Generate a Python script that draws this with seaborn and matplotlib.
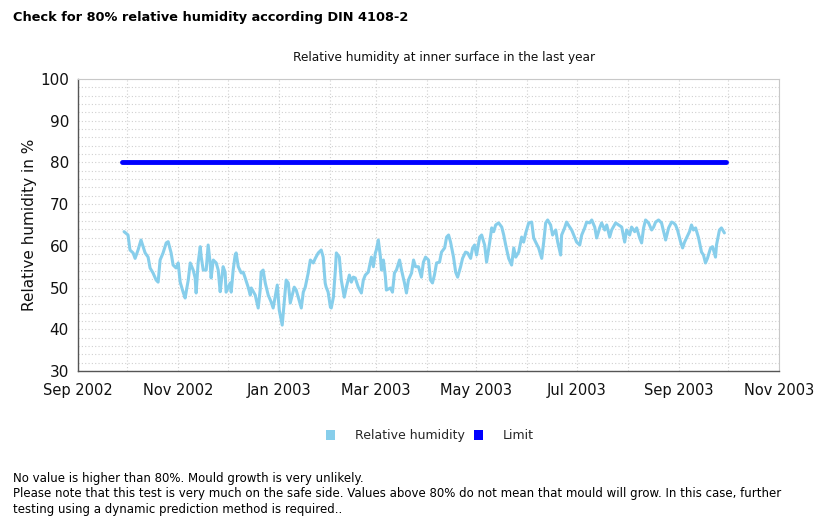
import matplotlib
matplotlib.use("Agg")
import matplotlib.pyplot as plt
import matplotlib.dates as mdates
from matplotlib.patches import Patch
from matplotlib.ticker import MultipleLocator
import numpy as np
import pandas as pd
import seaborn as sns

# ---------------- data ----------------
start_date = "2002-09-01"
days = [28.0, 30.4, 31.6, 33.5, 34.7, 36.5, 38.3, 39.6, 40.8, 42.6, 43.8, 45.6, 47.5, 48.7, 49.9,
        51.7, 53.6, 54.8, 56.6, 57.8, 59.6, 60.9, 62.1, 63.9, 65.1, 67.0, 68.2, 70.0, 71.2, 71.8,
        73.0, 74.3, 74.9, 76.1, 77.9, 79.1, 80.3, 80.9, 82.2, 84.0, 85.2, 86.4, 87.0, 88.2, 89.4,
        90.0, 92.5, 93.1, 94.3, 95.5, 96.1, 97.4, 99.2, 100.4, 101.6, 103.4, 104.7, 105.3, 107.7,
        109.5, 110.7, 111.3, 112.5, 113.8, 115.6, 117.4, 118.6, 119.8, 121.1, 122.3, 123.5, 124.1,
        125.3, 126.5, 127.8, 129.0, 130.2, 131.4, 132.6, 133.8, 135.7, 136.9, 138.1, 139.9, 141.2,
        143.0, 144.2, 146.0, 147.8, 149.0, 150.2, 150.8, 152.0, 153.4, 153.9, 155.2, 156.4, 157.0,
        158.8, 160.0, 161.8, 163.1, 164.9, 166.1, 167.3, 168.5, 170.3, 172.2, 173.4, 174.6, 176.4,
        178.3, 179.5, 180.7, 181.3, 182.5, 183.8, 184.4, 185.6, 186.8, 187.4, 189.9, 191.1, 192.3,
        193.5, 195.4, 196.6, 198.4, 199.6, 200.8, 202.7, 203.9, 205.1, 206.9, 208.7, 209.9, 211.2,
        213.0, 214.2, 215.4, 216.6, 217.9, 219.7, 220.9, 222.8, 224.0, 225.2, 226.4, 228.2, 229.5,
        230.7, 232.5, 233.7, 235.5, 236.8, 238.6, 239.8, 241.0, 242.2, 244.1, 245.3, 247.1, 248.3,
        250.2, 251.4, 252.6, 253.8, 255.6, 257.5, 258.7, 259.9, 261.7, 263.5, 264.8, 266.0, 267.8,
        269.6, 270.8, 272.1, 273.9, 275.7, 276.9, 278.1, 279.9, 281.8, 283.0, 284.2, 285.4, 287.2,
        288.4, 290.3, 291.5, 293.3, 293.9, 295.7, 296.9, 298.8, 300.0, 301.8, 303.0, 304.9, 306.1,
        307.9, 309.1, 310.9, 312.2, 314.0, 315.2, 317.0, 318.2, 320.1, 321.3, 323.1, 324.3, 326.7,
        328.5, 330.4, 332.2, 333.4, 335.2, 336.4, 338.3, 339.5, 341.3, 342.5, 343.7, 344.9, 346.7,
        348.6, 349.8, 351.0, 352.8, 354.6, 355.9, 357.1, 358.9, 360.7, 361.9, 363.1, 364.3, 366.2,
        367.4, 368.6, 369.8, 371.6, 372.8, 374.0, 375.3, 377.1, 378.9, 380.1, 381.3, 382.5, 384.4,
        385.6, 387.4, 388.0, 389.8, 391.0, 392.8]
humidity = [63.4, 62.6, 59.0, 58.3, 57.0, 59.0, 61.4, 59.8, 58.3, 57.3, 54.7, 53.5, 51.8, 51.3, 56.6,
            58.3, 60.7, 61.0, 58.3, 55.4, 54.7, 55.9, 51.3, 48.9, 47.5, 51.8, 55.9, 54.2, 52.3, 48.7,
            55.9, 59.8, 57.3, 54.2, 54.2, 60.2, 55.9, 52.3, 56.6, 55.9, 54.2, 49.0, 51.1, 55.0, 53.7,
            48.9, 51.1, 48.9, 54.2, 57.8, 58.3, 55.0, 53.5, 53.7, 52.3, 50.1, 48.2, 49.9, 48.2,
            45.1, 49.4, 53.7, 54.2, 51.1, 48.2, 46.5, 45.1, 47.7, 50.6, 44.6, 42.2, 41.0,
            46.3, 51.8, 51.1, 46.3, 48.2, 50.1, 49.4, 47.7, 45.1, 48.9, 50.1, 53.5, 56.6,
            55.9, 57.0, 58.3, 59.0, 57.3, 51.1, 50.1, 48.9, 45.3, 45.1, 47.7, 54.2, 58.3,
            57.3, 51.8, 47.7, 50.1, 53.0, 51.3, 52.5, 52.3, 50.1, 48.7, 51.8, 53.0, 53.7,
            57.3, 55.0, 58.3, 59.0, 61.4, 57.3, 54.2, 56.6, 52.5, 49.4, 49.9, 48.9, 53.5,
            54.2, 56.6, 54.2, 51.1, 48.7, 51.8, 53.5, 56.6, 55.0, 55.0, 52.5, 56.1, 57.3,
            56.6, 51.8, 51.1, 53.0, 55.9, 56.1, 58.5, 59.5, 62.1, 62.6, 60.9, 57.3, 53.7,
            52.5, 55.0, 57.0, 58.5, 58.3, 57.0, 59.5, 60.2, 57.8, 62.1, 62.6, 60.2, 56.1,
            60.9, 64.3, 63.4, 65.0, 65.5, 64.5, 62.6, 60.2, 57.0, 55.4, 59.5, 57.3, 58.5,
            62.1, 60.9, 63.1, 65.5, 65.7, 61.9, 60.9, 59.5, 57.0, 60.9, 65.5, 66.2, 65.0,
            62.6, 63.8, 60.9, 57.8, 62.6, 64.3, 65.7, 64.5, 63.8, 62.1, 60.9, 60.2, 62.6,
            64.3, 65.7, 65.5, 66.2, 64.5, 61.9, 64.3, 65.5, 63.8, 65.0, 62.1, 63.8, 65.5,
            65.0, 64.5, 60.9, 63.8, 62.6, 64.5, 63.4, 64.3, 61.9, 60.7, 64.3, 66.2, 65.5,
            63.8, 64.5, 65.7, 66.2, 65.5, 63.4, 61.4, 64.3, 65.7, 65.5, 65.0, 63.8, 60.9,
            59.5, 60.9, 61.9, 63.4, 65.0, 63.8, 64.3, 61.9, 58.5, 57.8, 55.9, 57.0, 59.5,
            59.8, 57.3, 60.2, 63.8, 64.3, 63.1]
limit_value = 80
limit_days = [27.0, 393.5]

title = "Check for 80% relative humidity according DIN 4108-2"
subtitle = "Relative humidity at inner surface in the last year"
ylabel = "Relative humidity in %"
series_names = ["Relative humidity", "Limit"]
notes = ["No value is higher than 80%. Mould growth is very unlikely.",
         "Please note that this test is very much on the safe side. Values above 80% do not mean that mould will grow. In this case, further",
         "testing using a dynamic prediction method is required.."]

t0 = pd.Timestamp(start_date)
df = pd.DataFrame({"date": t0 + pd.to_timedelta(days, unit="D"), "rh": humidity})
dl = pd.DataFrame({"date": t0 + pd.to_timedelta(limit_days, unit="D"), "rh": [limit_value] * len(limit_days)})

# ---------------- plot ----------------
sns.set_style("white")
plt.rcParams["font.family"] = ["DejaVu Sans"]

fig = plt.figure(figsize=(8.27, 5.30), dpi=100)
ax = fig.add_axes([0.0943, 0.300, 0.8477, 0.551])

c_rh = "#87CEEB"
c_lim = "#0000FF"
sns.lineplot(data=df, x="date", y="rh", ax=ax, color=c_rh, lw=2.2, legend=False)
sns.lineplot(data=dl, x="date", y="rh", ax=ax, color=c_lim, lw=3.5, legend=False)

ax.set_xlim(pd.Timestamp("2002-09-01"), pd.Timestamp("2003-11-01"))
ax.set_ylim(30, 100)
ax.yaxis.set_major_locator(MultipleLocator(10))
ax.yaxis.set_minor_locator(MultipleLocator(2))
ax.xaxis.set_major_locator(mdates.MonthLocator(bymonth=[1, 3, 5, 7, 9, 11]))
ax.xaxis.set_minor_locator(mdates.MonthLocator())
ax.xaxis.set_major_formatter(mdates.DateFormatter("%b %Y"))

ax.grid(True, which="both", axis="both", color="#d0d0d0", linestyle=(0, (1, 2)), lw=0.8)
ax.set_axisbelow(True)

for s in ["left", "bottom"]:
    ax.spines[s].set_color("#555555")
    ax.spines[s].set_linewidth(1.0)
for s in ["top", "right"]:
    ax.spines[s].set_color("#c8c8c8")
    ax.spines[s].set_linewidth(0.8)

ax.tick_params(axis="both", which="major", direction="inout", length=7, width=0.8,
               color="#555555", labelsize=11, labelcolor="#111111", pad=3)
ax.tick_params(axis="both", which="minor", direction="out", length=3, width=0.6, color="#777777")
ax.tick_params(axis="x", which="major", pad=5, labelsize=10.5)

ax.set_xlabel("")
ax.set_ylabel(ylabel, fontsize=11, color="#111111", labelpad=2)

fig.text(444 / 827, 1 - 58 / 530, subtitle, fontsize=8.7, ha="center", va="center", color="#111111")
fig.text(0.016, 0.967, title, fontsize=9.3, fontweight="bold", ha="left", va="center", color="#000000")

handles = [Patch(facecolor=c_rh, edgecolor="none"), Patch(facecolor=c_lim, edgecolor="none")]
fig.legend(handles, series_names, loc="center", bbox_to_anchor=(0.52, 0.178), ncol=2, frameon=False,
           fontsize=9, handlelength=0.7, handleheight=0.9, handletextpad=1.6, columnspacing=0.8)

ys = [0.098, 0.068, 0.038]
for y, n in zip(ys, notes):
    fig.text(0.016, y, n, fontsize=8.5, ha="left", va="center", color="#000000")

fig.savefig("out.png", dpi=100)
